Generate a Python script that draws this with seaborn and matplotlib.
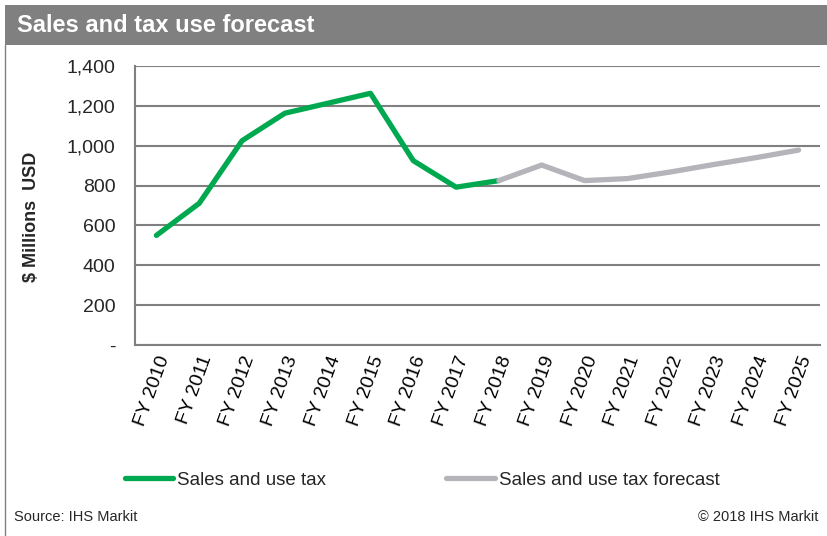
import matplotlib
matplotlib.use("Agg")
import matplotlib.pyplot as plt
import seaborn as sns
import pandas as pd
from matplotlib.ticker import FuncFormatter, FixedLocator
from matplotlib.patches import Rectangle
from matplotlib.lines import Line2D

# Data ($ millions)
years = [f"FY {y}" for y in range(2010, 2026)]
actual_years = years[:9]
actual_values = [550, 711, 1025, 1163, 1213, 1263, 925, 792, 825]
forecast_years = years[8:]
forecast_values = [825, 903, 825, 835, 868, 905, 940, 978]

series_names = ["Sales and use tax", "Sales and use tax forecast"]
series_colors = ["#00A94F", "#B4B4BA"]

# Long-form table for seaborn
df = pd.concat([
    pd.DataFrame({"year": actual_years, "value": actual_values, "series": series_names[0]}),
    pd.DataFrame({"year": forecast_years, "value": forecast_values, "series": series_names[1]}),
])
df["pos"] = df["year"].map({y: i for i, y in enumerate(years)})

sns.set_style("white")
plt.rcParams["font.family"] = ["Liberation Sans", "DejaVu Sans"]

W, H = 827, 536
fig = plt.figure(figsize=(W / 100, H / 100), dpi=100)

# Title bar
fig.patches.append(Rectangle((5 / W, 1 - 45 / H), 1, 40 / H, transform=fig.transFigure,
                             facecolor="#808080", edgecolor="none"))
fig.text(17 / W, 1 - 26 / H, "Sales and tax use forecast", color="white", fontsize=17,
         fontweight="bold", va="center", ha="left")
# Left frame line
fig.lines.append(Line2D([5 / W, 5 / W], [0, 1 - 45 / H], transform=fig.transFigure,
                        color="#808080", lw=1))

ax = fig.add_axes([135 / W, 1 - 345 / H, 685 / W, 279 / H])
sns.lineplot(data=df, x="pos", y="value", hue="series", palette=series_colors,
             linewidth=3.8, ax=ax, legend=False, sort=False)

ax.set_xlim(-0.5, len(years) - 0.5)
ax.set_ylim(0, 1400)
ax.set_yticks(range(0, 1401, 200))
ax.yaxis.set_major_formatter(FuncFormatter(lambda v, p: "-" if v == 0 else f"{int(v):,}"))
ax.grid(axis="y", color="#808080", lw=1.5)
ax.set_axisbelow(True)
for s in ["top", "right"]:
    ax.spines[s].set_visible(False)
ax.spines["left"].set_color("#808080")
ax.spines["left"].set_linewidth(1.5)
ax.spines["bottom"].set_color("#808080")
ax.spines["bottom"].set_linewidth(1.5)

# Category labels centered, tick marks on boundaries
ax.xaxis.set_major_locator(FixedLocator([i - 0.5 for i in range(len(years) + 1)]))
ax.set_xticklabels([])
ax.xaxis.set_minor_locator(FixedLocator(list(range(len(years)))))
ax.set_xticklabels(years, minor=True, rotation=70, ha="right", va="top",
                   rotation_mode="anchor", fontsize=14)
ax.tick_params(axis="x", which="minor", length=0, pad=6, labelcolor="black")
ax.tick_params(axis="x", which="major", length=6, width=1.5, color="#808080", direction="out")
ax.tick_params(axis="y", length=6, width=1.5, color="#808080", direction="out",
               labelsize=14, pad=8)
ax.set_xlabel("")
ax.set_ylabel("$ Millions  USD", fontsize=13, fontweight="bold")
ax.yaxis.set_label_coords(-0.138, 0.46)

# Legend below the plot
handles = [Line2D([], [], color=c, lw=3.8) for c in series_colors]
fig.legend(handles, series_names, loc="center", bbox_to_anchor=(422 / W, 1 - 480 / H),
           ncol=2, frameon=False, fontsize=13.5, handlelength=2.6, handletextpad=0.2,
           columnspacing=6.4)

# Footer
fig.text(14 / W, 1 - 517 / H, "Source: IHS Markit", fontsize=10.5, va="center", ha="left")
fig.text(818 / W, 1 - 517 / H, "\u00a9 2018 IHS Markit", fontsize=10.5, va="center", ha="right")

fig.savefig("out.png", dpi=100)
